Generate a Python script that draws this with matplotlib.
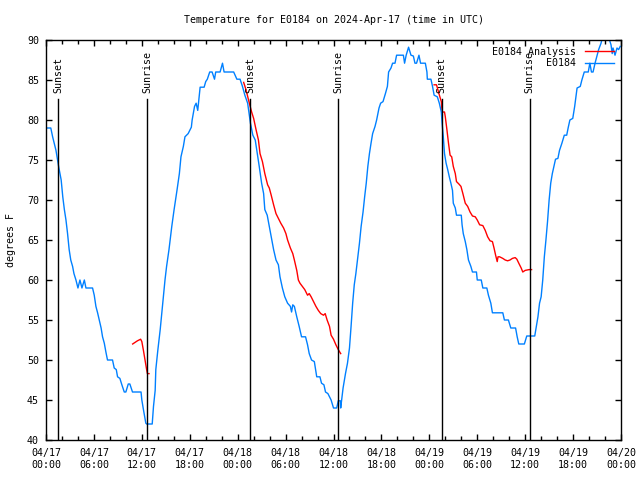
import pandas as pd
import numpy as np
import matplotlib
matplotlib.use("Agg")
import matplotlib.pyplot as plt
import matplotlib.dates as mdates

# time axis = hours after 2024-04-17 00:00 UTC
base = pd.Timestamp("2024-04-17 00:00")

# E0184 observed temps (deg F)
obs_h = [0.0, 0.6, 0.83, 1.25, 1.58, 1.9, 2.1, 2.3, 2.5, 2.7, 2.9, 3.1, 3.33, 3.5, 3.75, 4.0,
         4.25, 4.5, 4.8, 5.0, 5.83, 6.04, 6.25, 6.46, 6.67, 6.9, 7.08, 7.3, 7.5, 7.7, 8.33,
         8.54, 8.8, 8.96, 9.25, 9.5, 9.8, 10.0, 10.3, 10.5, 10.83, 11.9, 12.0, 12.2, 12.5,
         12.6, 13.3, 13.46, 13.67, 13.75, 14.0, 14.3, 14.58, 14.9, 15.1, 15.4, 15.75, 16.04,
         16.4, 16.7, 16.9, 17.2, 17.4, 17.8, 18.2, 18.3, 18.6, 18.8, 19.0, 19.3, 19.8, 20.0,
         20.2, 20.5, 20.8, 21.1, 21.25, 21.8, 22.1, 22.3, 23.5, 23.9, 24.3, 24.6, 24.9,
         25.25, 25.6, 25.9, 26.2, 26.4, 26.7, 27.0, 27.25, 27.4, 27.7, 27.96, 28.2, 28.5,
         28.8, 29.1, 29.3, 29.6, 29.9, 30.25, 30.6, 30.75, 30.9, 31.1, 31.4, 31.7, 32.0,
         32.5, 32.75, 32.96, 33.25, 33.6, 33.9, 34.3, 34.5, 34.8, 35.0, 35.3, 35.7, 36.0,
         36.4, 36.6, 36.85, 36.9, 37.2, 37.5, 37.75, 38.0, 38.2, 38.4, 38.6, 38.8, 39.0,
         39.25, 39.46, 39.7, 39.9, 40.1, 40.3, 40.5, 40.7, 40.9, 41.2, 41.4, 41.7, 41.9,
         42.2, 42.5, 42.75, 42.9, 43.2, 43.4, 43.7, 43.9, 44.75, 44.9, 45.1, 45.4, 45.7,
         46.0, 46.2, 46.4, 46.7, 46.9, 47.5, 47.7, 47.75, 48.2, 48.4, 48.6, 49.0, 49.25,
         49.5, 49.6, 49.75, 49.9, 50.1, 50.3, 50.5, 50.7, 50.9, 51.0, 51.25, 51.4, 52.0,
         52.1, 52.25, 52.5, 52.7, 52.9, 53.2, 53.4, 53.9, 54.0, 54.5, 54.7, 55.2, 55.4,
         55.7, 55.9, 57.2, 57.4, 57.9, 58.2, 58.8, 59.0, 59.2, 59.9, 60.2, 61.2, 61.4,
         61.6, 61.8, 62.0, 62.2, 62.4, 62.6, 62.8, 63.0, 63.2, 63.4, 63.6, 63.8, 64.1,
         64.3, 64.6, 64.9, 65.2, 65.4, 65.6, 65.96, 66.2, 66.3, 66.5, 66.9, 67.1, 67.4,
         67.9, 68.1, 68.3, 68.5, 68.75, 68.96, 69.2, 69.5, 69.7, 70.4, 70.75, 70.9, 71.0,
         71.25, 71.5, 71.7, 71.9]
obs_t = [79, 79, 77.9, 76.2, 74.2, 72.5, 70.4, 68.8, 67.5, 65.8, 63.8, 62.5, 61.7, 60.8, 60, 59,
         60, 59, 60, 59, 59, 58.1, 56.7, 55.9, 55, 54, 52.9, 52.1, 51, 50, 50,
         49, 48.8, 47.9, 47.7, 46.9, 46, 46, 47, 47, 46, 46, 45, 43.8, 42.1,
         42, 42, 44.2, 46.2, 48.8, 51.2, 53.8, 56.7, 60, 61.7, 63.8, 66.7, 68.8,
         71.2, 73.3, 75.4, 76.7, 77.9, 78.3, 79.1, 80, 81.7, 82.1, 81.2, 84.1, 84.1, 84.8,
         85.1, 86, 86, 85.1, 86, 86, 87.1, 86, 86, 85.1, 85.1, 84.2, 83.1,
         82.1, 79.6, 78.1, 77.5, 76.2, 74.2, 72.1, 70.8, 68.8, 68.1, 66.7, 65.4, 63.8,
         62.5, 61.9, 60.4, 59, 57.9, 57.1, 56.7, 56, 56.9, 56.7, 55.4, 54.2, 52.9,
         52.9, 51.9, 50.8, 50, 49.8, 47.9, 47.9, 47.1, 46.9, 46, 45.8, 45, 44,
         44, 44.9, 44.9, 44, 46.5, 48.3, 49.6, 51.5, 54.2, 57.1, 59.4, 60.8, 62.5,
         64.6, 66.7, 68.5, 70.4, 72.1, 74.2, 75.8, 77.1, 78.3, 79.2, 80, 81.5, 82.1,
         82.3, 83.3, 84.2, 86, 86.5, 87.1, 87.1, 88.1, 88.1, 87.1, 88.1, 89.1, 88.1,
         88, 87.1, 87.1, 88.1, 87.1, 87.1, 86, 85.1, 85.1, 84.2, 83.1, 82.9, 82.1,
         81, 79.6, 77.9, 75.8, 74.6, 73.8, 72.9, 72.1, 71.2, 69.6, 69, 68.1, 68.1,
         66.9, 65.8, 64.8, 63.8, 62.5, 61.7, 61, 61, 60, 60, 59, 59, 58.1,
         57.1, 55.9, 55.9, 55, 55, 54, 54, 52.9, 52, 52, 53, 53, 54.2,
         55.4, 57.1, 57.9, 60, 62.9, 65, 67.3, 70, 72.1, 73.3, 74.2, 75.1, 75.2,
         76.2, 77.1, 78.1, 78.1, 79.1, 80, 80.2, 81.7, 82.5, 84, 84.2, 85, 86,
         86, 87.1, 86, 86, 87.1, 87.9, 88.8, 89.6, 90.5, 90.5, 89.4, 88.3, 89,
         88.1, 89, 88.8, 89.2]

# E0184 Analysis (three separate runs)
ana1_h = [10.85, 11.45, 11.85, 12.0, 12.2, 12.4, 12.6, 12.7, 12.9]
ana1_t = [52, 52.4, 52.6, 52.3, 51.2, 50, 48.8, 48.3, 48.3]
ana2_h = [24.75, 25.04, 25.46, 25.75, 26.0, 26.3, 26.6, 26.8, 27.1, 27.4, 27.75, 27.96, 28.2,
          28.5, 28.8, 29.1, 29.4, 29.75, 30.04, 30.25, 30.6, 30.9, 31.1, 31.4, 31.6, 31.8,
          32.1, 32.4, 32.75, 32.96, 33.2, 33.5, 33.8, 34.1, 34.4, 34.75, 34.96, 35.2, 35.5,
          35.7, 36.0, 36.3, 36.6, 36.9]
ana2_t = [84.7, 83.8, 82.1, 81, 80.2, 78.8, 77.5, 75.8, 74.8, 73.3, 71.9, 71.5, 70.6,
          69.4, 68.3, 67.7, 67.1, 66.5, 65.8, 65, 64, 63.3, 62.5, 61.2, 60, 59.6,
          59.2, 58.8, 58.1, 58.3, 57.9, 57.3, 56.7, 56.2, 55.8, 55.6, 55.8, 55, 54.2,
          53.1, 52.6, 51.9, 51.3, 50.8]
ana3_h = [48.6, 48.9, 49.2, 49.5, 49.6, 49.9, 50.0, 50.2, 50.4, 50.6, 50.8, 51.0, 51.25,
          51.4, 51.7, 51.96, 52.2, 52.5, 52.8, 53.1, 53.4, 53.75, 54.0, 54.3, 54.7, 55.0,
          55.3, 55.6, 55.9, 56.1, 56.3, 56.5, 56.6, 56.8, 57.2, 57.5, 57.8, 58.1, 58.4,
          58.75, 58.96, 59.2, 59.5, 59.7, 60.0, 60.5, 60.8]
ana3_t = [84.4, 84.4, 83.3, 82.3, 81, 81, 80.4, 78.8, 77.1, 75.6, 75.4, 74.2, 73.3,
          72.3, 72, 71.7, 70.8, 69.6, 69.2, 68.5, 68, 67.9, 67.5, 66.9, 66.8, 66.2,
          65.4, 64.9, 64.8, 64, 63.1, 62.3, 62.9, 62.9, 62.7, 62.5, 62.4, 62.5, 62.7,
          62.8, 62.6, 62.1, 61.5, 61, 61.2, 61.3, 61.3]

# sunset / sunrise times (hours)
sun_h = [1.54, 12.7, 25.54, 36.58, 49.54, 60.58]
sun_lbl = ["Sunset", "Sunrise", "Sunset", "Sunrise", "Sunset", "Sunrise"]

def to_time(h):
    return base + pd.to_timedelta(np.array(h), unit="h")

mono = "DejaVu Sans Mono"
fs = 7.2
plt.rcParams["font.family"] = mono
plt.rcParams["font.size"] = fs

fig = plt.figure(figsize=(6.4, 4.8), dpi=100)
ax = fig.add_axes([46/640, 40/480, 575/640, 400/480])

red = "#ff0000"
blue = "#0080ff"
ax.plot(to_time(ana1_h), ana1_t, color=red, lw=1.0, label="E0184 Analysis")
ax.plot(to_time(ana2_h), ana2_t, color=red, lw=1.0)
ax.plot(to_time(ana3_h), ana3_t, color=red, lw=1.0)
ax.plot(to_time(obs_h), obs_t, color=blue, lw=1.0, label="E0184")

for h, lbl in zip(sun_h, sun_lbl):
    t = to_time([h])[0]
    ax.plot([t, t], [40, 82.6], color="black", lw=1.0)
    ax.text(t, 83.4, lbl, rotation=90, ha="center", va="bottom", fontsize=fs)

ax.set_xlim(base, base + pd.Timedelta(hours=72))
ax.set_ylim(40, 90)
ax.set_yticks(np.arange(40, 91, 5))
ax.xaxis.set_major_locator(mdates.HourLocator(byhour=[0, 6, 12, 18]))
ax.xaxis.set_minor_locator(mdates.HourLocator(interval=2))
ax.xaxis.set_major_formatter(mdates.DateFormatter("%m/%d\n%H:%M"))

ax.tick_params(axis="both", which="both", direction="in", top=True, right=True,
               labelsize=fs, width=1.0, color="black")
ax.tick_params(axis="both", which="major", length=4.5)
ax.tick_params(axis="x", which="minor", length=3)
ax.tick_params(axis="x", which="major", pad=6)
ax.tick_params(axis="y", which="major", pad=5)
for s in ax.spines.values():
    s.set_linewidth(1.0)

ax.set_title("Temperature for E0184 on 2024-Apr-17 (time in UTC)", fontsize=fs, pad=12)
ax.set_ylabel("degrees F", fontsize=fs, labelpad=8)

ax.legend(loc="upper right", frameon=False, markerfirst=False, handlelength=2.9,
          handletextpad=0.9, labelspacing=0.15, borderaxespad=0.3, fontsize=fs)

fig.savefig("out.png", dpi=100)
